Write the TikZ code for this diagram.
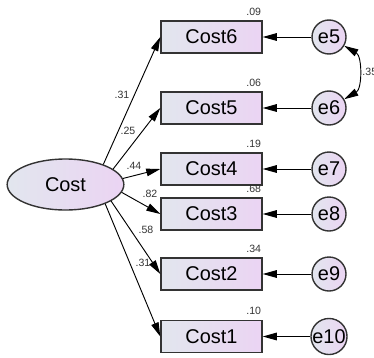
\documentclass[tikz,border=0pt]{standalone}
\usepackage{fontspec}
\setmainfont{Liberation Sans}
\usetikzlibrary{arrows.meta, shapes.geometric, positioning}
\definecolor{shadeleft}{HTML}{E2E6EE}
\definecolor{shaderight}{HTML}{EBD4F3}
\definecolor{edgedark}{HTML}{333333}

\begin{document}
\begin{tikzpicture}[x=0.03cm, y=-0.03cm, >={Triangle[length=12pt, width=6.5pt]},
    line width=0.8pt, font=\fontsize{17}{20}\selectfont,
    observed/.style={rectangle, draw=edgedark, line width=1.2pt, left color=shadeleft,
      right color=shaderight, minimum width=3.03cm, minimum height=0.96cm, inner sep=0pt},
    latent/.style={ellipse, draw=edgedark, line width=1.2pt, left color=shadeleft,
      right color=shaderight, minimum width=3.5cm, minimum height=1.53cm, inner sep=0pt},
    errvar/.style={circle, draw=edgedark, line width=1.2pt, left color=shadeleft,
      right color=shaderight, minimum size=1.02cm, inner sep=0pt},
    coef/.style={font=\fontsize{9}{10}\selectfont, text=black!80, inner sep=0pt},
    rsq/.style={coef, anchor=south east, xshift=-1pt, yshift=4pt}]

    \useasboundingbox (0,0) rectangle (374,357);

    % Latent factor
    \node[latent] (cost) at (65.5,184.5) {Cost};

    % Indicators
    \node[observed] (cost6) at (211.5,37) {Cost6};
    \node[observed] (cost5) at (211.5,108) {Cost5};
    \node[observed] (cost4) at (211.5,169) {Cost4};
    \node[observed] (cost3) at (211.5,214) {Cost3};
    \node[observed] (cost2) at (211.5,274) {Cost2};
    \node[observed] (cost1) at (211.5,336.5) {Cost1};

    % Error terms
    \node[errvar] (e5) at (329,37) {e5};
    \node[errvar] (e6) at (329,108) {e6};
    \node[errvar] (e7) at (329,169) {e7};
    \node[errvar] (e8) at (329,214) {e8};
    \node[errvar] (e9) at (329,274) {e9};
    \node[errvar] (e10) at (329,336.5) {e10};

    % Loadings
    \draw[->] (cost.28) -- (cost6.west);
    \draw[->] (cost.18) -- (cost5.west);
    \draw[->] (cost.6) -- (cost4.west);
    \draw[->] (cost.-8) -- (cost3.west);
    \draw[->] (cost.-20) -- (cost2.west);
    \draw[->] (cost.-26) -- (cost1.west);

    \node[coef] (w6) at (122,95) {.31};
    \node[coef] (w5) at (128,131) {.25};
    \node[coef] (w4) at (134,166) {.44};
    \node[coef] (w3) at (150,194) {.82};
    \node[coef] (w2) at (146,230) {.58};
    \node[coef] (w1) at (143,263) {.31};

    % Squared multiple correlations
    \node[rsq] (r6) at (cost6.north east) {.09};
    \node[rsq] (r5) at (cost5.north east) {.06};
    \node[rsq] (r4) at (cost4.north east) {.19};
    \node[rsq] (r3) at (cost3.north east) {.68};
    \node[rsq] (r2) at (cost2.north east) {.34};
    \node[rsq] (r1) at (cost1.north east) {.10};

    % Error paths
    \draw[->] (e5) -- (cost6);
    \draw[->] (e6) -- (cost5);
    \draw[->] (e7) -- (cost4);
    \draw[->] (e8) -- (cost3);
    \draw[->] (e9) -- (cost2);
    \draw[->] (e10) -- (cost1);

    % Covariance
    \draw[<->] (e5) to[out=-30, in=30] (e6);
    \node[coef, anchor=west] (c56) at (362,72) {.35};
\end{tikzpicture}
\end{document}
